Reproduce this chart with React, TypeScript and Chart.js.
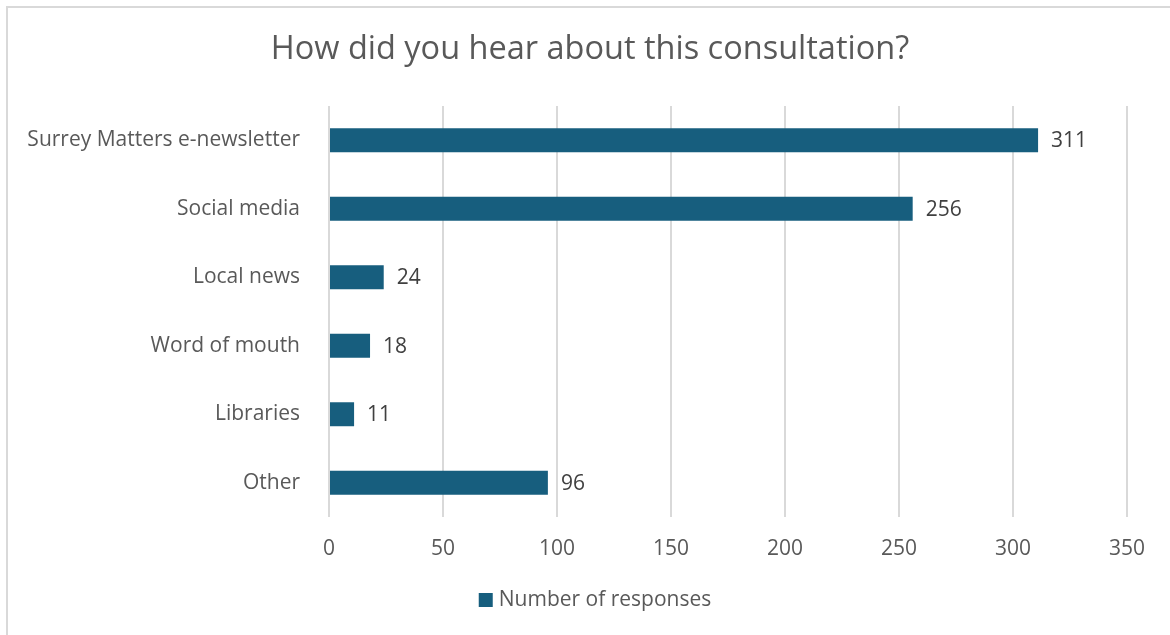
import React, { useEffect, useRef } from "react";
import { Chart, registerables } from "chart.js";

Chart.register(...registerables);

const titleText = "How did you hear about this consultation?";
const categories = [
  "Surrey Matters e-newsletter",
  "Social media",
  "Local news",
  "Word of mouth",
  "Libraries",
  "Other",
];
const responses = [311, 256, 24, 18, 11, 96];
const seriesName = "Number of responses";
const xTicks = [0, 50, 100, 150, 200, 250, 300, 350];

const FONT = "'Open Sans', Lato, sans-serif";
const TEXT = "#595959";
const BAR = "#175E7E";
const FS = 21;

const dataLabels = {
  id: "dataLabels",
  afterDatasetsDraw(chart: any) {
    const ctx = chart.ctx;
    const meta = chart.getDatasetMeta(0);
    ctx.save();
    ctx.font = `${FS}px ${FONT}`;
    ctx.fillStyle = "#404040";
    ctx.textAlign = "left";
    ctx.textBaseline = "middle";
    meta.data.forEach((el: any, i: number) => {
      ctx.fillText(String(chart.data.datasets[0].data[i]), el.x + 13, el.y + 1);
    });
    ctx.restore();
  },
};

const titleAndLegend = {
  id: "titleAndLegend",
  afterDraw(chart: any) {
    const ctx = chart.ctx;
    ctx.save();
    ctx.font = `32.5px ${FONT}`;
    ctx.fillStyle = TEXT;
    ctx.textAlign = "center";
    ctx.textBaseline = "middle";
    ctx.fillText(titleText, 590, 50);
    ctx.font = `${FS}px ${FONT}`;
    const w = ctx.measureText(seriesName).width;
    const total = 14 + 6 + w;
    const x0 = 595 - total / 2;
    const cy = 600;
    ctx.fillStyle = BAR;
    ctx.fillRect(x0, cy - 7, 14, 14);
    ctx.fillStyle = TEXT;
    ctx.textAlign = "left";
    ctx.fillText(seriesName, x0 + 20, cy);
    ctx.restore();
  },
};

export default function App() {
  const ref = useRef<HTMLCanvasElement | null>(null);
  useEffect(() => {
    if (!ref.current) return;
    const chart = new Chart(ref.current, {
      type: "bar",
      data: {
        labels: categories,
        datasets: [
          {
            label: seriesName,
            data: responses,
            backgroundColor: BAR,
            borderWidth: 0,
            categoryPercentage: 1,
            barPercentage: 0.35,
          },
        ],
      },
      options: {
        indexAxis: "y",
        animation: false,
        responsive: false,
        maintainAspectRatio: false,
        layout: { padding: { left: 0, right: 43, top: 106, bottom: 58 } },
        plugins: {
          title: { display: false },
          legend: { display: false },
          tooltip: { enabled: false },
        },
        scales: {
          x: {
            min: 0,
            max: 350,
            afterBuildTicks(scale: any) {
              scale.ticks = xTicks.map((v) => ({ value: v }));
            },
            afterFit(scale: any) {
              scale.height = 60;
            },
            grid: { color: "#d9d9d9", lineWidth: 2, drawTicks: false },
            border: { display: false },
            ticks: {
              color: TEXT,
              font: { family: FONT, size: FS },
              padding: 19,
            },
          },
          y: {
            afterFit(scale: any) {
              scale.width = 329;
            },
            grid: { display: false, drawTicks: false },
            border: { display: false },
            ticks: {
              color: TEXT,
              font: { family: FONT, size: FS },
              padding: 29,
            },
          },
        },
      },
      plugins: [dataLabels, titleAndLegend],
    });
    return () => chart.destroy();
  }, []);

  return (
    <div style={{ position: "absolute", left: 0, top: 0, width: 1170, height: 635, background: "#fff" }}>
      <div
        style={{
          position: "absolute",
          left: 6,
          top: 6,
          width: 1200,
          height: 700,
          border: "2px solid #d9d9d9",
          boxSizing: "border-box",
        }}
      />
      <canvas ref={ref} width={1170} height={635} style={{ position: "absolute", left: 0, top: 0 }} />
    </div>
  );
}
